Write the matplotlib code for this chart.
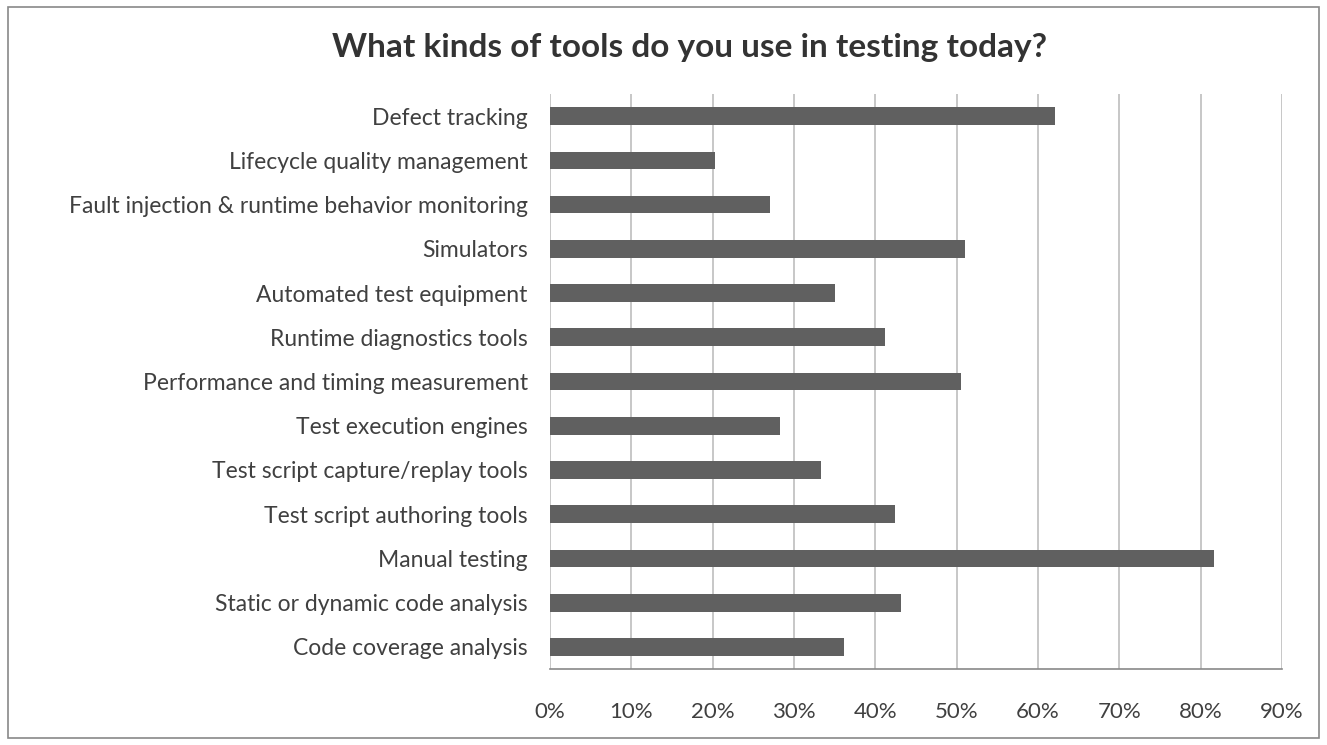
import matplotlib.pyplot as plt
from matplotlib.patches import Rectangle
import numpy as np

# Survey answers, listed top to bottom as shown
tools = [
    "Defect tracking",
    "Lifecycle quality management",
    "Fault injection & runtime behavior monitoring",
    "Simulators",
    "Automated test equipment",
    "Runtime diagnostics tools",
    "Performance and timing measurement",
    "Test execution engines",
    "Test script capture/replay tools",
    "Test script authoring tools",
    "Manual testing",
    "Static or dynamic code analysis",
    "Code coverage analysis",
]
share = [62.1, 20.3, 27.0, 51.0, 35.0, 41.2, 50.5, 28.3, 33.3, 42.4, 81.6, 43.1, 36.2]
x_ticks = [0, 10, 20, 30, 40, 50, 60, 70, 80, 90]

plt.rcParams['font.family'] = ['Lato', 'DejaVu Sans']

W, H = 1327, 745
fig = plt.figure(figsize=(W / 100, H / 100), dpi=100)

# outer chart frame
fig.patches.append(Rectangle((8 / W, 7 / H), (W - 16) / W, (H - 14) / H,
                             transform=fig.transFigure, fill=False,
                             edgecolor='#898989', linewidth=1.2))

left, right, top, bottom = 550, 1282, 94, 669
ax = fig.add_axes([left / W, 1 - bottom / H, (right - left) / W, (bottom - top) / H])

y = np.arange(len(tools))
ax.barh(y, share, height=0.4, color='#606060', zorder=3)

ax.set_xlim(0, 90)
ax.set_ylim(len(tools) - 0.5, -0.5)
ax.set_xticks(x_ticks)
ax.set_xticklabels([f"{t}%" for t in x_ticks], fontsize=16, color='#404040')
ax.set_yticks(y)
ax.set_yticklabels(tools, fontsize=16.5, color='#404040')
ax.tick_params(axis='both', length=0)
ax.tick_params(axis='x', pad=24)
ax.tick_params(axis='y', pad=16)

ax.xaxis.grid(True, color='#BDBDBD', linewidth=1.2, zorder=0)
for side in ['top', 'right', 'left']:
    ax.spines[side].set_visible(False)
ax.spines['bottom'].set_color('#898989')
ax.spines['bottom'].set_linewidth(1.2)

fig.text(689 / W, 1 - 48 / H, "What kinds of tools do you use in testing today?",
         ha='center', va='center', fontsize=24, fontweight='bold', color='#333333')

fig.savefig('out.png', dpi=100)
